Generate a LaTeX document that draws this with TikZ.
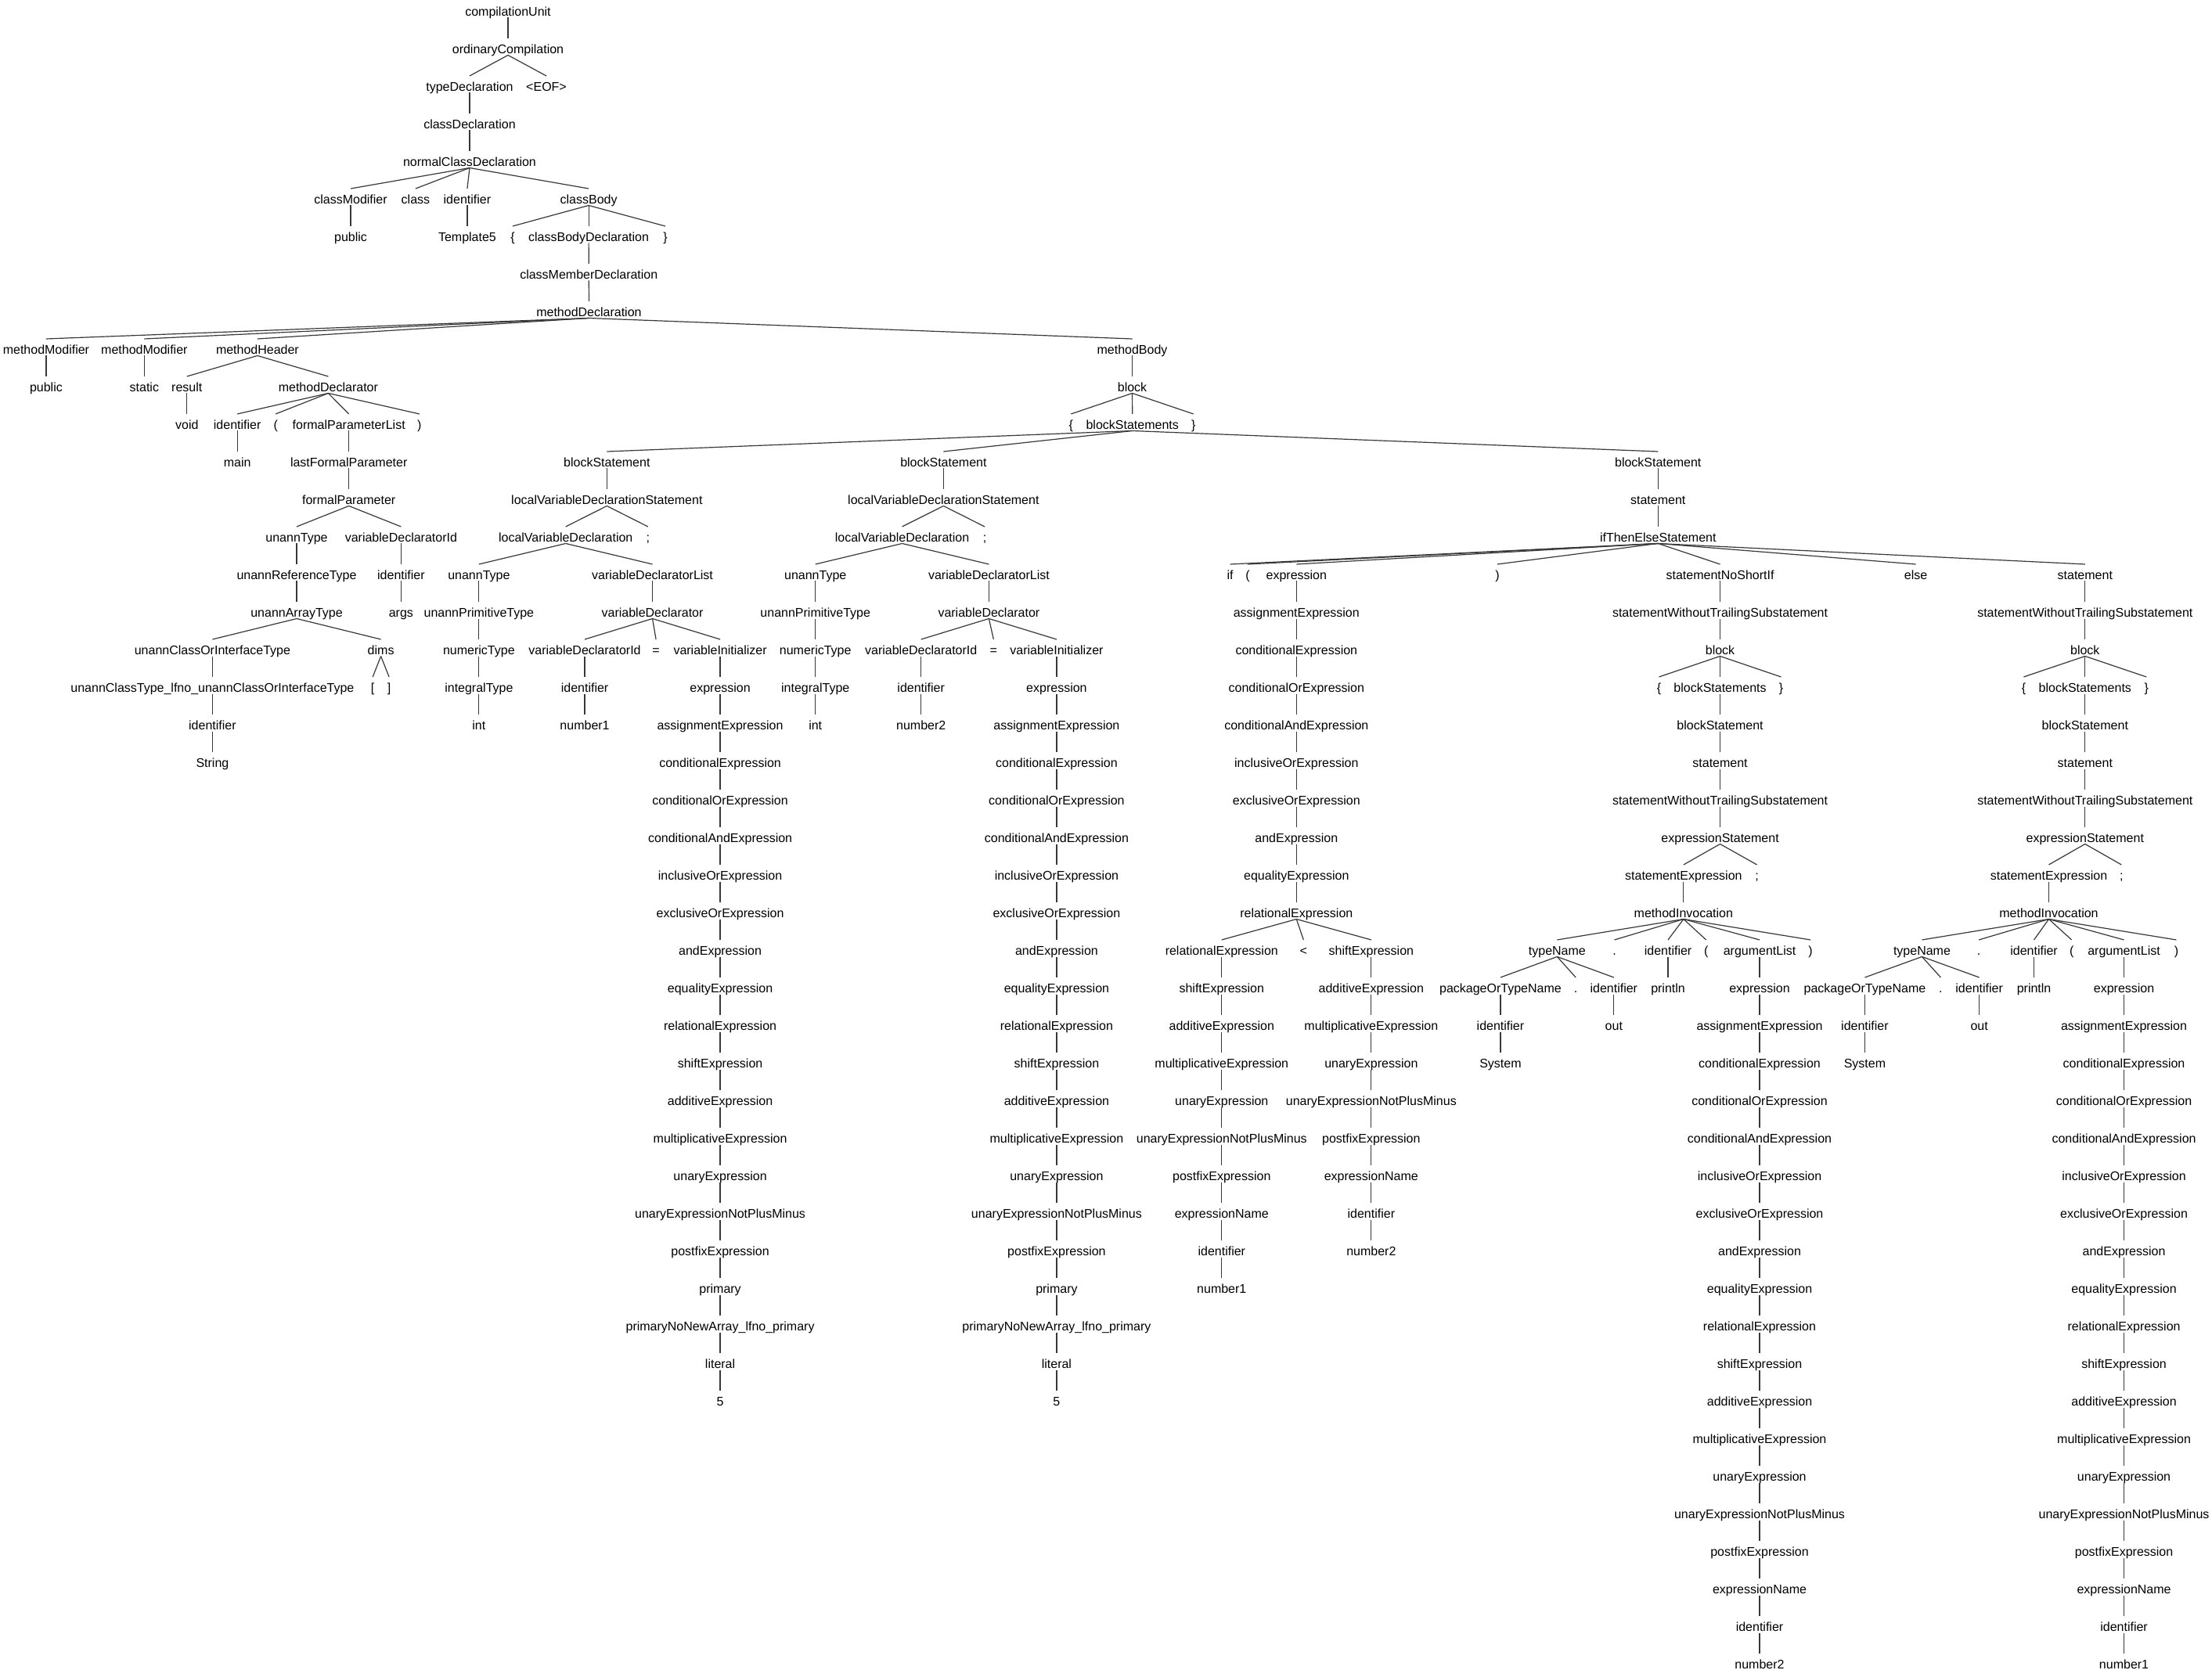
\documentclass[tikz,border=0pt]{standalone}
\usepackage{fontspec}
\setmainfont{Liberation Sans}
\tikzset{
  lbl/.style={anchor=base, inner sep=0pt, font=\fontsize{16pt}{19pt}\selectfont},
  conn/.style={line width=1.2pt, draw=black!78}
}
\newcommand\tnode[4]{\node[lbl] (#1) at (#2,#3+0.427) {#4};}
\newcommand\tedge[2]{\draw[conn] ([yshift=-2pt]#1.base) -- ([yshift=19.5pt]#2.base);}
\newcommand\tchain[5]{%
  \foreach \lab [count=\i from #3] in {#4} {%
    \node[lbl] (#1\i) at (#2,\i+0.427) {\lab};
    \ifnum\i>#3\relax
      \pgfmathtruncatemacro\p{\i-1}%
      \tedge{#1\p}{#1\i}
    \fi
  }%
  \tedge{#5}{#1#3}%
}
\begin{document}
\begin{tikzpicture}[x=1.8023pt, y=-48pt]
\fill[white] (0,0) rectangle (1568,44.458);
\useasboundingbox (0,0) rectangle (1568,44.458);
% rows 0-8
\tnode{cu}{360.1}{0}{compilationUnit}
\tnode{oc}{360.1}{1}{ordinaryCompilation}
\tnode{td}{332.9}{2}{typeDeclaration}
\tnode{eof}{387.3}{2}{<EOF>}
\tnode{cd}{332.9}{3}{classDeclaration}
\tnode{ncd}{332.9}{4}{normalClassDeclaration}
\tnode{cm}{248.6}{5}{classModifier}
\tnode{cls}{294.6}{5}{class}
\tnode{idcls}{331.2}{5}{identifier}
\tnode{cb}{417.3}{5}{classBody}
\tnode{pubc}{248.6}{6}{public}
\tnode{tmpl}{331.2}{6}{Template5}
\tnode{lbc}{363.4}{6}{\{}
\tnode{cbd}{417.3}{6}{classBodyDeclaration}
\tnode{rbc}{471.6}{6}{\}}
\tnode{cmd}{417.4}{7}{classMemberDeclaration}
\tnode{md}{417.5}{8}{methodDeclaration}
% rows 9-14
\tnode{mm1}{32.7}{9}{methodModifier}
\tnode{mm2}{102.3}{9}{methodModifier}
\tnode{mh}{182.5}{9}{methodHeader}
\tnode{mb}{802.6}{9}{methodBody}
\tnode{pubm}{32.7}{10}{public}
\tnode{stat}{102.3}{10}{static}
\tnode{res}{132.5}{10}{result}
\tnode{mdl}{232.7}{10}{methodDeclarator}
\tnode{blk}{802.6}{10}{block}
\tnode{void}{132.5}{11}{void}
\tnode{idm}{168.2}{11}{identifier}
\tnode{lpm}{195.4}{11}{(}
\tnode{fpl}{247.3}{11}{formalParameterList}
\tnode{rpm}{297.3}{11}{)}
\tnode{lbb}{759.2}{11}{\{}
\tnode{bss}{802.7}{11}{blockStatements}
\tnode{rbb}{846}{11}{\}}
\tnode{main}{168.2}{12}{main}
\tnode{lfp}{247.3}{12}{lastFormalParameter}
\tnode{bs1}{430.2}{12}{blockStatement}
\tnode{bs2}{668.8}{12}{blockStatement}
\tnode{bs3}{1175.3}{12}{blockStatement}
\tnode{fp}{247.3}{13}{formalParameter}
\tnode{lvds1}{430.2}{13}{localVariableDeclarationStatement}
\tnode{lvds2}{668.8}{13}{localVariableDeclarationStatement}
\tnode{st}{1175.3}{13}{statement}
\tnode{ut1}{210.3}{14}{unannType}
\tnode{vdi1}{284.3}{14}{variableDeclaratorId}
\tnode{lvd1}{401}{14}{localVariableDeclaration}
\tnode{sc1}{459.3}{14}{;}
\tnode{lvd2}{639.5}{14}{localVariableDeclaration}
\tnode{sc2}{698}{14}{;}
\tnode{ite}{1175.3}{14}{ifThenElseStatement}
% row 15
\tnode{urt}{210.3}{15}{unannReferenceType}
\tnode{idargs}{284.3}{15}{identifier}
\tnode{ut2}{339.5}{15}{unannType}
\tnode{vdl1}{462.5}{15}{variableDeclaratorList}
\tnode{ut3}{578}{15}{unannType}
\tnode{vdl2}{701}{15}{variableDeclaratorList}
\tnode{if}{872}{15}{if}
\tnode{lpi}{884.5}{15}{(}
\tnode{rpi}{1061.4}{15}{)}
\tnode{snsi}{1219.3}{15}{statementNoShortIf}
\tnode{else}{1358}{15}{else}
\tnode{st2}{1478}{15}{statement}
% row 16
\tnode{uat}{210.3}{16}{unannArrayType}
\tnode{args}{284.3}{16}{args}
\tnode{upt1}{339.5}{16}{unannPrimitiveType}
\tnode{vd1}{462.5}{16}{variableDeclarator}
\tnode{upt2}{578}{16}{unannPrimitiveType}
\tnode{vd2}{701}{16}{variableDeclarator}
\tnode{swts1}{1219.3}{16}{statementWithoutTrailingSubstatement}
\tnode{swts2}{1478}{16}{statementWithoutTrailingSubstatement}
% row 17
\tnode{ucoit}{150.6}{17}{unannClassOrInterfaceType}
\tnode{dims}{270}{17}{dims}
\tnode{nt1}{339.5}{17}{numericType}
\tnode{vdi2}{414.5}{17}{variableDeclaratorId}
\tnode{eq1}{465}{17}{=}
\tnode{vi1}{510.5}{17}{variableInitializer}
\tnode{nt2}{578}{17}{numericType}
\tnode{vdi3}{652.9}{17}{variableDeclaratorId}
\tnode{eq2}{704.3}{17}{=}
\tnode{vi2}{749}{17}{variableInitializer}
\tnode{blkA}{1219.3}{17}{block}
\tnode{blkB}{1478}{17}{block}
% row 18
\tnode{uct}{150.6}{18}{unannClassType\_lfno\_unannClassOrInterfaceType}
\tnode{lbr}{264.2}{18}{[}
\tnode{rbr}{275.8}{18}{]}
\tnode{it1}{339.5}{18}{integralType}
\tnode{idn1}{414.5}{18}{identifier}
\tnode{it2}{578}{18}{integralType}
\tnode{idn2}{652.9}{18}{identifier}
\tnode{lbA}{1176}{18}{\{}
\tnode{bssA}{1219.3}{18}{blockStatements}
\tnode{rbA}{1262.5}{18}{\}}
\tnode{lbB}{1434.5}{18}{\{}
\tnode{bssB}{1478}{18}{blockStatements}
\tnode{rbB}{1521.5}{18}{\}}
% row 19-24
\tnode{ids}{150.6}{19}{identifier}
\tnode{int1}{339.5}{19}{int}
\tnode{num1}{414.5}{19}{number1}
\tnode{int2}{578}{19}{int}
\tnode{num2}{652.9}{19}{number2}
\tnode{bsA}{1219.3}{19}{blockStatement}
\tnode{bsB}{1478}{19}{blockStatement}
\tnode{str}{150.6}{20}{String}
\tnode{stA}{1219.3}{20}{statement}
\tnode{stB}{1478}{20}{statement}
\tnode{swtsA}{1219.3}{21}{statementWithoutTrailingSubstatement}
\tnode{swtsB}{1478}{21}{statementWithoutTrailingSubstatement}
\tnode{esA}{1219.3}{22}{expressionStatement}
\tnode{esB}{1478}{22}{expressionStatement}
\tnode{seA}{1193.4}{23}{statementExpression}
\tnode{scA}{1245.4}{23}{;}
\tnode{seB}{1452.3}{23}{statementExpression}
\tnode{scB}{1503.8}{23}{;}
\tnode{miA}{1193.4}{24}{methodInvocation}
\tnode{miB}{1452.3}{24}{methodInvocation}
% row 25
\tnode{reL}{866}{25}{relationalExpression}
\tnode{lt}{924}{25}{<}
\tnode{shR}{972}{25}{shiftExpression}
\tnode{tnA}{1103.8}{25}{typeName}
\tnode{dotA}{1144.4}{25}{.}
\tnode{idpA}{1182.4}{25}{identifier}
\tnode{lpA}{1209.4}{25}{(}
\tnode{alA}{1247.3}{25}{argumentList}
\tnode{rpA}{1283.4}{25}{)}
\tnode{tnB}{1362.4}{25}{typeName}
\tnode{dotB}{1402.7}{25}{.}
\tnode{idpB}{1441.8}{25}{identifier}
\tnode{lpB}{1468.5}{25}{(}
\tnode{alB}{1505.6}{25}{argumentList}
\tnode{rpB}{1542.7}{25}{)}
% row 26-28
\tnode{potA}{1063.6}{26}{packageOrTypeName}
\tnode{dA}{1117}{26}{.}
\tnode{idoA}{1144}{26}{identifier}
\tnode{prA}{1182.4}{26}{println}
\tnode{potB}{1321.9}{26}{packageOrTypeName}
\tnode{dB}{1375.7}{26}{.}
\tnode{idoB}{1403}{26}{identifier}
\tnode{prB}{1441.8}{26}{println}
\tnode{idsA}{1063.6}{27}{identifier}
\tnode{outA}{1144}{27}{out}
\tnode{idsB}{1321.9}{27}{identifier}
\tnode{outB}{1403}{27}{out}
\tnode{sysA}{1063.6}{28}{System}
\tnode{sysB}{1321.9}{28}{System}
% edges
\tedge{cu}{oc}
\tedge{oc}{td}\tedge{oc}{eof}
\tedge{td}{cd}\tedge{cd}{ncd}
\tedge{ncd}{cm}\tedge{ncd}{cls}\tedge{ncd}{idcls}\tedge{ncd}{cb}
\tedge{cm}{pubc}\tedge{idcls}{tmpl}
\tedge{cb}{lbc}\tedge{cb}{cbd}\tedge{cb}{rbc}
\tedge{cbd}{cmd}\tedge{cmd}{md}
\tedge{md}{mm1}\tedge{md}{mm2}\tedge{md}{mh}\tedge{md}{mb}
\tedge{mm1}{pubm}\tedge{mm2}{stat}
\tedge{mh}{res}\tedge{mh}{mdl}\tedge{mb}{blk}
\tedge{res}{void}
\tedge{mdl}{idm}\tedge{mdl}{lpm}\tedge{mdl}{fpl}\tedge{mdl}{rpm}
\tedge{blk}{lbb}\tedge{blk}{bss}\tedge{blk}{rbb}
\tedge{idm}{main}\tedge{fpl}{lfp}
\tedge{bss}{bs1}\tedge{bss}{bs2}\tedge{bss}{bs3}
\tedge{lfp}{fp}\tedge{bs1}{lvds1}\tedge{bs2}{lvds2}\tedge{bs3}{st}
\tedge{fp}{ut1}\tedge{fp}{vdi1}
\tedge{lvds1}{lvd1}\tedge{lvds1}{sc1}
\tedge{lvds2}{lvd2}\tedge{lvds2}{sc2}
\tedge{st}{ite}
\tedge{ut1}{urt}\tedge{vdi1}{idargs}
\tedge{lvd1}{ut2}\tedge{lvd1}{vdl1}
\tedge{lvd2}{ut3}\tedge{lvd2}{vdl2}
\tedge{ite}{if}\tedge{ite}{lpi}\tedge{ite}{rpi}\tedge{ite}{snsi}\tedge{ite}{else}\tedge{ite}{st2}
\tedge{urt}{uat}\tedge{idargs}{args}
\tedge{ut2}{upt1}\tedge{vdl1}{vd1}
\tedge{ut3}{upt2}\tedge{vdl2}{vd2}
\tedge{snsi}{swts1}\tedge{st2}{swts2}
\tedge{uat}{ucoit}\tedge{uat}{dims}
\tedge{upt1}{nt1}
\tedge{vd1}{vdi2}\tedge{vd1}{eq1}\tedge{vd1}{vi1}
\tedge{upt2}{nt2}
\tedge{vd2}{vdi3}\tedge{vd2}{eq2}\tedge{vd2}{vi2}
\tedge{swts1}{blkA}\tedge{swts2}{blkB}
\tedge{ucoit}{uct}\tedge{dims}{lbr}\tedge{dims}{rbr}
\tedge{nt1}{it1}\tedge{vdi2}{idn1}
\tedge{nt2}{it2}\tedge{vdi3}{idn2}
\tedge{blkA}{lbA}\tedge{blkA}{bssA}\tedge{blkA}{rbA}
\tedge{blkB}{lbB}\tedge{blkB}{bssB}\tedge{blkB}{rbB}
\tedge{uct}{ids}\tedge{it1}{int1}\tedge{idn1}{num1}
\tedge{it2}{int2}\tedge{idn2}{num2}
\tedge{bssA}{bsA}\tedge{bssB}{bsB}
\tedge{ids}{str}
\tedge{bsA}{stA}\tedge{bsB}{stB}
\tedge{stA}{swtsA}\tedge{stB}{swtsB}
\tedge{swtsA}{esA}\tedge{swtsB}{esB}
\tedge{esA}{seA}\tedge{esA}{scA}
\tedge{esB}{seB}\tedge{esB}{scB}
\tedge{seA}{miA}\tedge{seB}{miB}
\tedge{miA}{tnA}\tedge{miA}{dotA}\tedge{miA}{idpA}\tedge{miA}{lpA}\tedge{miA}{alA}\tedge{miA}{rpA}
\tedge{miB}{tnB}\tedge{miB}{dotB}\tedge{miB}{idpB}\tedge{miB}{lpB}\tedge{miB}{alB}\tedge{miB}{rpB}
\tedge{tnA}{potA}\tedge{tnA}{dA}\tedge{tnA}{idoA}\tedge{idpA}{prA}
\tedge{tnB}{potB}\tedge{tnB}{dB}\tedge{tnB}{idoB}\tedge{idpB}{prB}
\tedge{potA}{idsA}\tedge{idoA}{outA}\tedge{potB}{idsB}\tedge{idoB}{outB}
\tedge{idsA}{sysA}\tedge{idsB}{sysB}
% chains
\tchain{A}{510.5}{18}{expression,assignmentExpression,conditionalExpression,conditionalOrExpression,conditionalAndExpression,inclusiveOrExpression,exclusiveOrExpression,andExpression,equalityExpression,relationalExpression,shiftExpression,additiveExpression,multiplicativeExpression,unaryExpression,unaryExpressionNotPlusMinus,postfixExpression,primary,primaryNoNewArray\_lfno\_primary,literal,5}{vi1}
\tchain{B}{749}{18}{expression,assignmentExpression,conditionalExpression,conditionalOrExpression,conditionalAndExpression,inclusiveOrExpression,exclusiveOrExpression,andExpression,equalityExpression,relationalExpression,shiftExpression,additiveExpression,multiplicativeExpression,unaryExpression,unaryExpressionNotPlusMinus,postfixExpression,primary,primaryNoNewArray\_lfno\_primary,literal,5}{vi2}
\tchain{C}{919}{15}{expression,assignmentExpression,conditionalExpression,conditionalOrExpression,conditionalAndExpression,inclusiveOrExpression,exclusiveOrExpression,andExpression,equalityExpression,relationalExpression}{ite}
\tedge{C24}{reL}\tedge{C24}{lt}\tedge{C24}{shR}
\tchain{D}{866}{26}{shiftExpression,additiveExpression,multiplicativeExpression,unaryExpression,unaryExpressionNotPlusMinus,postfixExpression,expressionName,identifier,number1}{reL}
\tchain{E}{972}{26}{additiveExpression,multiplicativeExpression,unaryExpression,unaryExpressionNotPlusMinus,postfixExpression,expressionName,identifier,number2}{shR}
\tchain{F}{1247.3}{26}{expression,assignmentExpression,conditionalExpression,conditionalOrExpression,conditionalAndExpression,inclusiveOrExpression,exclusiveOrExpression,andExpression,equalityExpression,relationalExpression,shiftExpression,additiveExpression,multiplicativeExpression,unaryExpression,unaryExpressionNotPlusMinus,postfixExpression,expressionName,identifier,number2}{alA}
\tchain{G}{1505.6}{26}{expression,assignmentExpression,conditionalExpression,conditionalOrExpression,conditionalAndExpression,inclusiveOrExpression,exclusiveOrExpression,andExpression,equalityExpression,relationalExpression,shiftExpression,additiveExpression,multiplicativeExpression,unaryExpression,unaryExpressionNotPlusMinus,postfixExpression,expressionName,identifier,number1}{alB}
\end{tikzpicture}
\end{document}
